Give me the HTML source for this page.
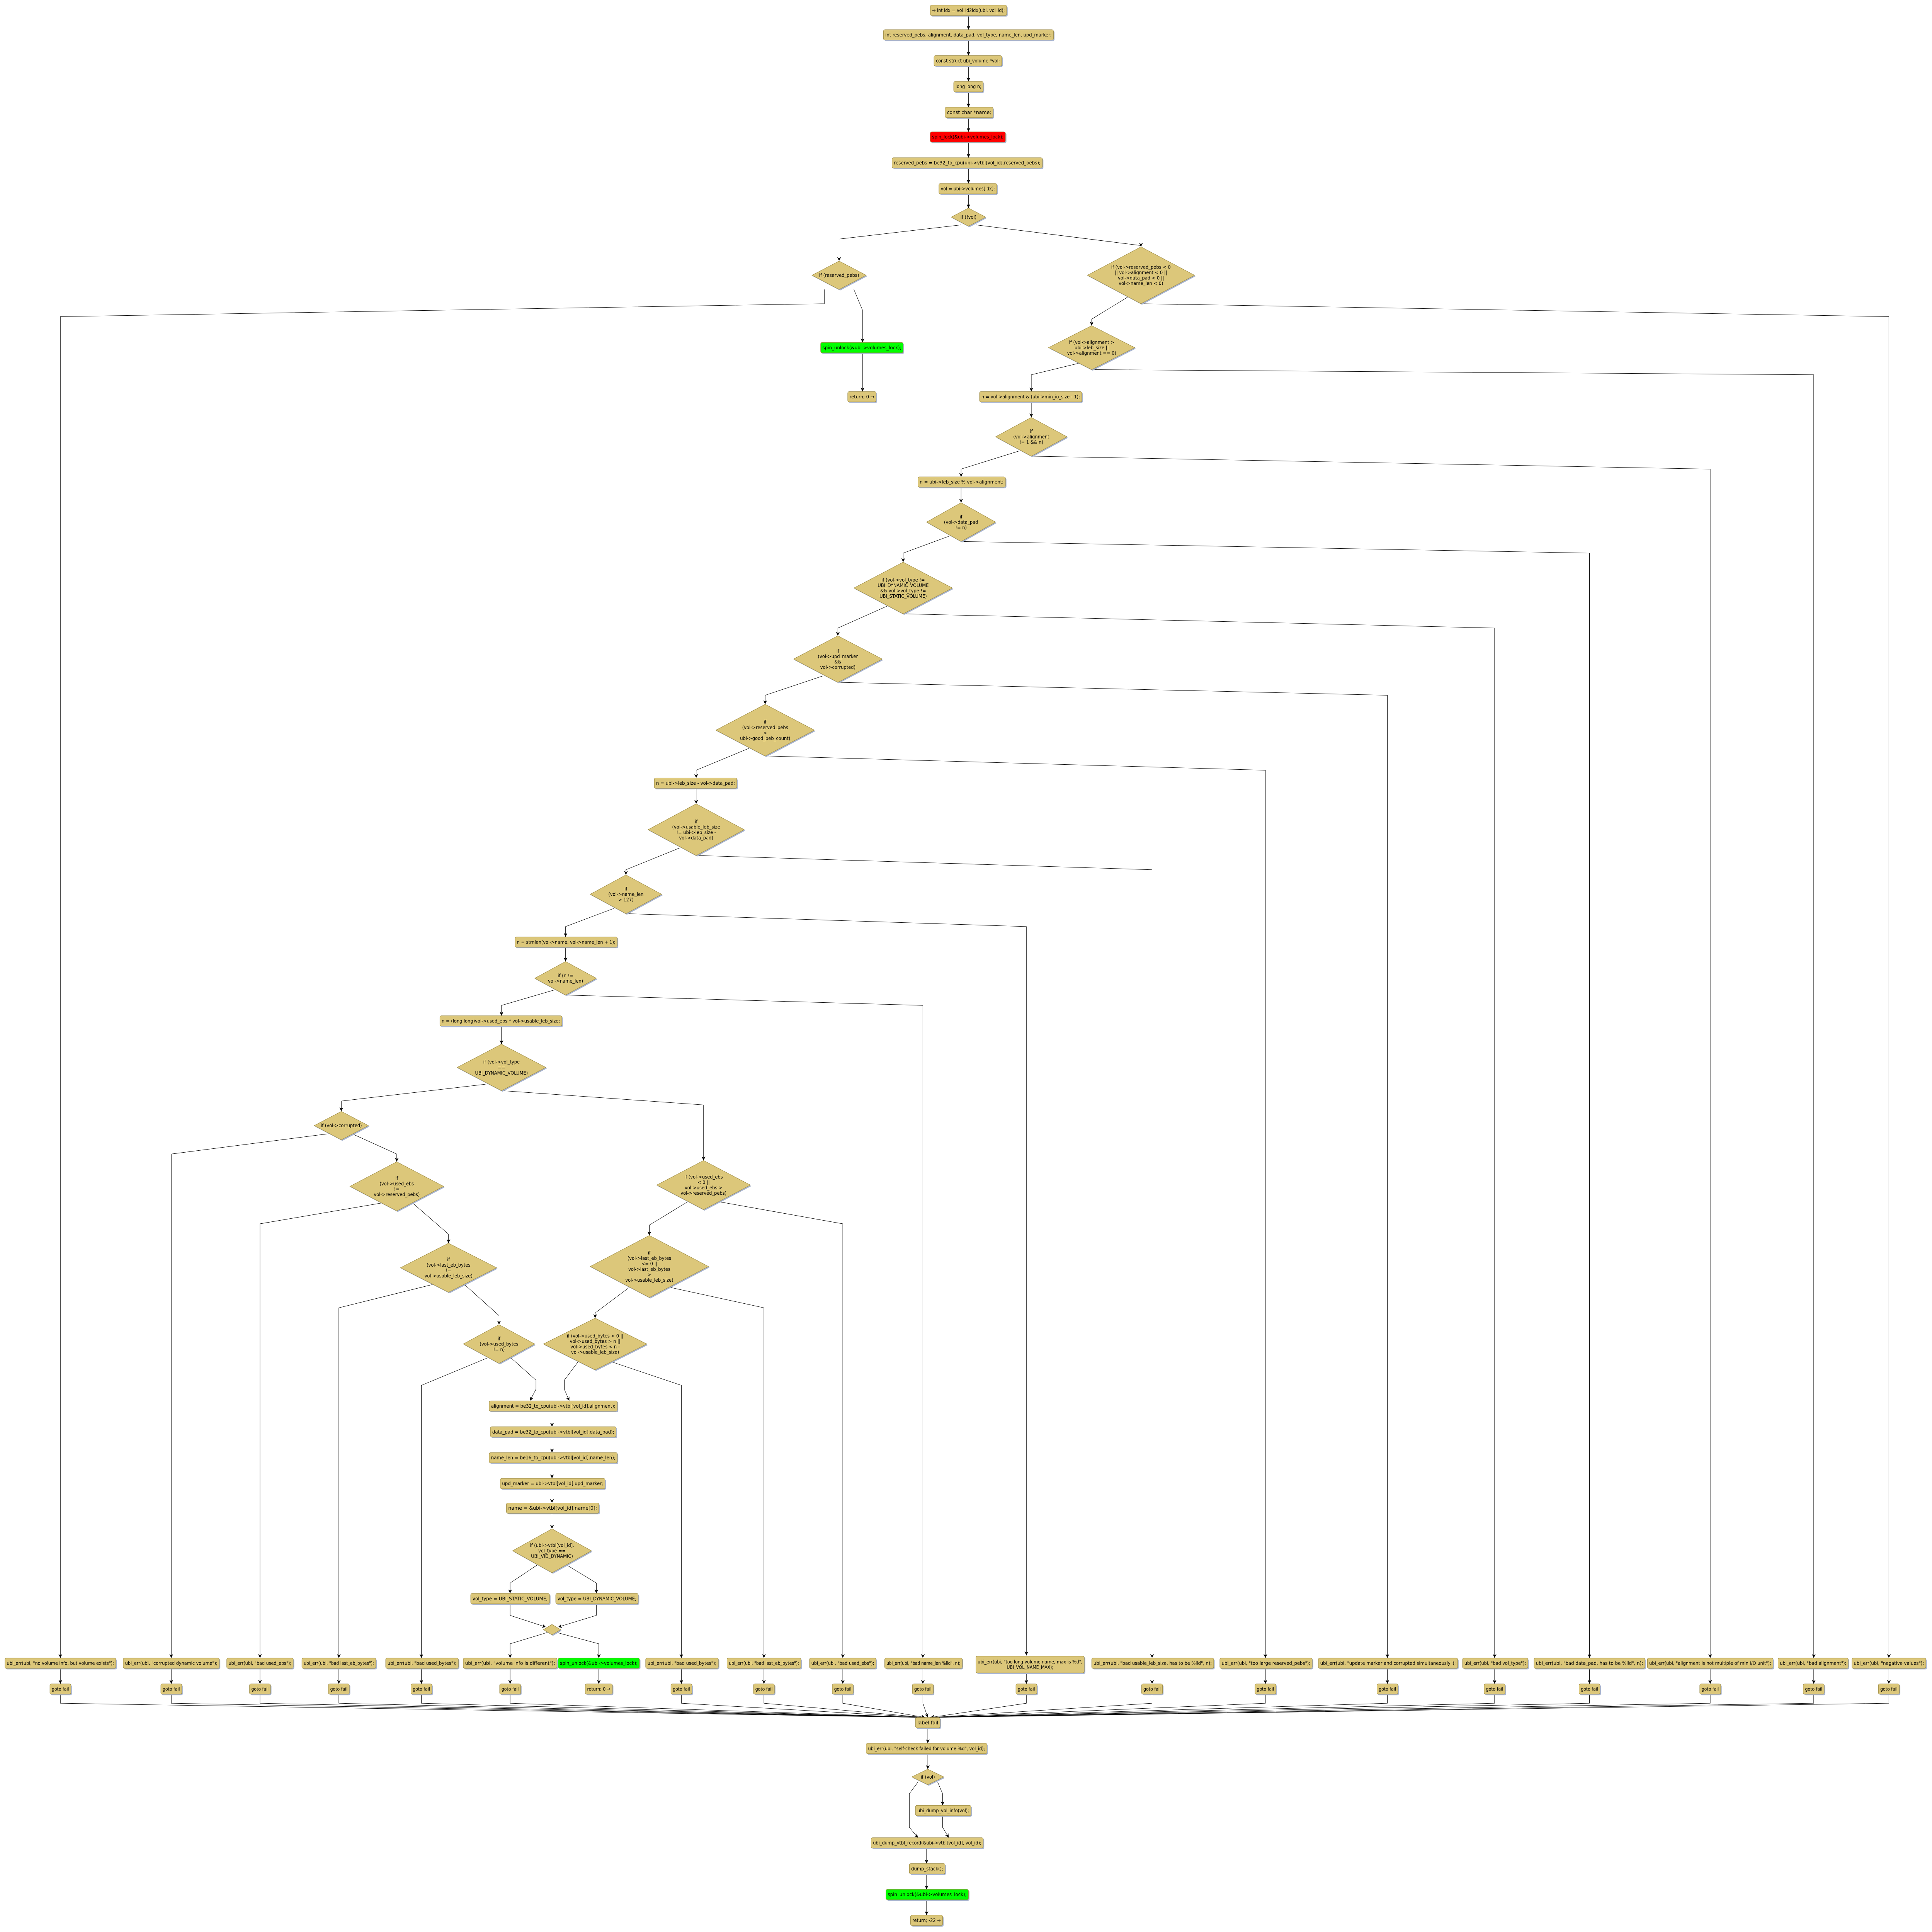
<!DOCTYPE html>
<html><head><meta charset="utf-8"><style>
html,body{margin:0;padding:0;background:#fff;width:100vw;height:100vh;overflow:hidden;}
svg{display:block;width:100vw;height:100vh;}
text{font-family:"DejaVu Sans","Liberation Sans",sans-serif;fill:#000;}
</style></head><body>
<svg id="s" xmlns="http://www.w3.org/2000/svg" viewBox="0 0 1568 1495" preserveAspectRatio="none">
<defs>
<marker id="a" markerUnits="userSpaceOnUse" markerWidth="4" markerHeight="4" refX="3" refY="1.5" orient="auto">
<path d="M0,0 L3,1.5 L0,3 L0.8,1.5 z" fill="#000"/>
</marker>
</defs>
<g id="E" fill="none" stroke="#000" stroke-width="0.3"></g>
<g id="N"></g>
</svg>
<script>
var NS="http://www.w3.org/2000/svg";
var E=document.getElementById('E'),N=document.getElementById('N');
var FILL="#dcc77a",STK="#9a8840",SH="#a8b4cf";
function el(t,a,p){var e=document.createElementNS(NS,t);for(var k in a)e.setAttribute(k,a[k]);(p||N).appendChild(e);return e;}
function txt(x,y,s,fit){var t=el('text',{x:x,y:y+1.25,'font-size':3.6,'text-anchor':'middle'});t.textContent=s;if(fit){t.setAttribute('textLength',fit);t.setAttribute('lengthAdjust','spacingAndGlyphs');}return t;}
function box(cx,cy,x0,x1,s,fill,h){h=h||8;var w=x1-x0;
 el('rect',{x:x0+0.8,y:cy-h/2+0.8,width:w,height:h,rx:1.2,fill:SH});
 el('rect',{x:x0,y:cy-h/2,width:w,height:h,rx:1.2,fill:fill||FILL,stroke:STK,'stroke-width':0.3});
 if(Array.isArray(s)){for(var i=0;i<s.length;i++)txt((x0+x1)/2,cy+(i-(s.length-1)/2)*4.2,s[i],Math.min(w-3,s[i].length*2.1));}
 else txt((x0+x1)/2,cy,s,Math.min(w-3,s.length*2.2));}
function dia(cx,cy,w,h,lines){
 var p=function(dx,dy){return [(cx+dx)+','+(cy-h/2+dy),(cx+w/2+dx)+','+(cy+dy),(cx+dx)+','+(cy+h/2+dy),(cx-w/2+dx)+','+(cy+dy)].join(' ');};
 el('polygon',{points:p(0.8,0.8),fill:SH});
 el('polygon',{points:p(0,0),fill:FILL,stroke:STK,'stroke-width':0.3});
 for(var i=0;i<lines.length;i++)txt(cx,cy+(i-(lines.length-1)/2)*4.2,lines[i]);}
function ed(pts,noarrow){var a={points:pts.map(function(p){return p.join(',')}).join(' ')};if(!noarrow)a['marker-end']='url(#a)';el('polyline',a,E);}

var chainTop=[[8,755,817,"→ int idx = vol_id2idx(ubi, vol_id);"],[27,717,855,"int reserved_pebs, alignment, data_pad, vol_type, name_len, upd_marker;"],
[47,758,813,"const struct ubi_volume *vol;"],[67,774,798,"long long n;"],[87,767,806,"const char *name;"],[106,755,816,"spin_lock(&ubi->volumes_lock);","#ff0000"],
[126,724,846,"reserved_pebs = be32_to_cpu(ubi->vtbl[vol_id].reserved_pebs);"],[146,762,809,"vol = ubi->volumes[idx];"]];
for(var i=0;i<chainTop.length;i++){box(786,chainTop[i][0],chainTop[i][1],chainTop[i][2],chainTop[i][3],chainTop[i][4]);
 var ny=(i<chainTop.length-1)?chainTop[i+1][0]-4:161;ed([[786,chainTop[i][0]+4],[786,ny]]);}
dia(786,168,28,14,["if (!vol)"]);
ed([[780,174],[681,185],[681,202]]);
ed([[792,174],[926,190],[926,191]]);
dia(681,213,44,22,["if (reserved_pebs)"]);
ed([[669,224],[669,235],[49,245],[49,1283]]);
ed([[693,224],[700,240],[700,265]]);
box(700,269,666,733,"spin_unlock(&ubi->volumes_lock);","#00ff00");
ed([[700,273],[700,303]]);
box(700,307,688,711,"return; 0 →");

dia(926,213,87,44,["if (vol->reserved_pebs < 0","|| vol->alignment < 0 ||","vol->data_pad < 0 ||","vol->name_len < 0)"]);
ed([[915,230],[886,247],[886,252]]);
ed([[927,235],[1533,245],[1533,1283]]);
dia(886,269,70,34,["if (vol->alignment >","ubi->leb_size ||","vol->alignment == 0)"]);
ed([[876,281],[837,290],[837,303]]);
ed([[887,286],[1472,290],[1472,1283]]);
box(837,307,795,878,"n = vol->alignment & (ubi->min_io_size - 1);");
ed([[837,311],[837,323]]);
dia(837,338,58,30,["if","(vol->alignment","!= 1 && n)"]);
ed([[827,349],[780,363],[780,369]]);
ed([[838,353],[1388,363],[1388,1283]]);
box(780,373,745,816,"n = ubi->leb_size % vol->alignment;");
ed([[780,377],[780,389]]);
dia(780,404,56,30,["if","(vol->data_pad","!= n)"]);
ed([[770,415],[733,428],[733,435]]);
ed([[781,419],[1290,428],[1290,1283]]);
dia(733,455,80,40,["if (vol->vol_type !=","UBI_DYNAMIC_VOLUME","&& vol->vol_type !=","UBI_STATIC_VOLUME)"]);
ed([[720,469],[680,486],[680,492]]);
ed([[734,475],[1213,486],[1213,1283]]);
dia(680,510,72,36,["if","(vol->upd_marker","&&","vol->corrupted)"]);
ed([[668,523],[621,538],[621,545]]);
ed([[681,528],[1126,538],[1126,1283]]);
dia(621,565,80,40,["if","(vol->reserved_pebs",">","ubi->good_peb_count)"]);
ed([[608,579],[565,596],[565,602]]);
ed([[622,585],[1027,596],[1027,1283]]);
box(565,606,531,598,"n = ubi->leb_size - vol->data_pad;");
ed([[565,610],[565,622]]);
dia(565,642,78,40,["if","(vol->usable_leb_size","!= ubi->leb_size -","vol->data_pad)"]);
ed([[552,656],[508,673],[508,677]]);
ed([[566,662],[935,673],[935,1283]]);
dia(508,692,58,30,["if","(vol->name_len","> 127)"]);
ed([[498,703],[459,717],[459,725]]);
ed([[509,707],[833,717],[833,1281]]);
box(459,729,418,501,"n = strnlen(vol->name, vol->name_len + 1);");
ed([[459,733],[459,744]]);
dia(459,757,50,26,["if (n !=","vol->name_len)"]);
ed([[450,766],[407,778],[407,786]]);
ed([[460,770],[749,778],[749,1283]]);
box(407,790,357,456,"n = (long long)vol->used_ebs * vol->usable_leb_size;");
ed([[407,794],[407,808]]);
dia(407,826,72,36,["if (vol->vol_type","==","UBI_DYNAMIC_VOLUME)"]);
ed([[394,839],[277,852],[277,860]]);
ed([[408,844],[571,855],[571,898]]);
dia(277,871,44,22,["if (vol->corrupted)"]);
ed([[269,877],[139,893],[139,1283]]);
ed([[285,877],[322,893],[322,899]]);
dia(322,918,76,38,["if","(vol->used_ebs","!=","vol->reserved_pebs)"]);
ed([[309,931],[211,947],[211,1283]]);
ed([[335,931],[364,955],[364,962]]);
dia(364,981,78,38,["if","(vol->last_eb_bytes","!=","vol->usable_leb_size)"]);
ed([[351,994],[275,1012],[275,1283]]);
ed([[377,994],[405,1018],[405,1025]]);
dia(405,1040,58,30,["if","(vol->used_bytes","!= n)"]);
ed([[395,1051],[342,1072],[342,1283]]);
ed([[415,1051],[435,1068],[435,1075],[430,1084]]);
dia(571,917,76,38,["if (vol->used_ebs","< 0 ||","vol->used_ebs >","vol->reserved_pebs)"]);
ed([[584,930],[684,947],[684,1283]]);
ed([[558,930],[527,948],[527,956]]);
dia(527,980,96,48,["if","(vol->last_eb_bytes","<= 0 ||","vol->last_eb_bytes",">","vol->usable_leb_size)"]);
ed([[543,996],[620,1012],[620,1283]]);
ed([[511,996],[483,1016],[483,1020]]);
dia(483,1040,84,40,["if (vol->used_bytes < 0 ||","vol->used_bytes > n ||","vol->used_bytes < n -","vol->usable_leb_size)"]);
ed([[497,1054],[553,1072],[553,1283]]);
ed([[469,1054],[458,1068],[458,1075],[462,1084]]);
var ch=[[1088,397,501,"alignment  = be32_to_cpu(ubi->vtbl[vol_id].alignment);"],[1108,398,500,"data_pad   = be32_to_cpu(ubi->vtbl[vol_id].data_pad);"],
[1128,397,501,"name_len   = be16_to_cpu(ubi->vtbl[vol_id].name_len);"],[1148,406,491,"upd_marker = ubi->vtbl[vol_id].upd_marker;"],[1167,411,486,"name       = &ubi->vtbl[vol_id].name[0];"]];
for(var i=0;i<ch.length;i++){box(448,ch[i][0],ch[i][1],ch[i][2],ch[i][3]);var ny=(i<ch.length-1)?ch[i+1][0]-4:1183;ed([[448,ch[i][0]+4],[448,ny]]);}
dia(448,1200,64,34,["if (ubi->vtbl[vol_id].","vol_type ==","UBI_VID_DYNAMIC)"]);
ed([[436,1211],[414,1225],[414,1233]]);
ed([[460,1211],[484,1225],[484,1233]]);
box(414,1237,382,446,"vol_type = UBI_STATIC_VOLUME;");
box(484,1237,451,518,"vol_type = UBI_DYNAMIC_VOLUME;");
ed([[414,1241],[414,1250],[443,1259]]);
ed([[484,1241],[484,1250],[453,1259]]);
dia(448,1261,14,8,[]);
ed([[445,1263],[414,1272],[414,1283]]);
ed([[451,1263],[486,1272],[486,1283]]);
box(486,1287,453,519,"spin_unlock(&ubi->volumes_lock);","#00ff00");
ed([[486,1291],[486,1303]]);
box(486,1307,475,497,"return; 0 →");

var errs=[[49,4,94,'"no volume info, but volume exists"'],[139,100,178,'"corrupted dynamic volume"'],[211,184,238,'"bad used_ebs"'],
[275,245,305,'"bad last_eb_bytes"'],[342,313,372,'"bad used_bytes"'],[414,376,452,'"volume info is different"'],
[553,524,583,'"bad used_bytes"'],[620,590,650,'"bad last_eb_bytes"'],[684,657,711,'"bad used_ebs"'],[749,718,781,'"bad name_len %lld", n'],
[833,792,880,null],[935,886,985,'"bad usable_leb_size, has to be %lld", n'],[1027,990,1065,'"too large reserved_pebs"'],
[1126,1070,1183,'"update marker and corrupted simultaneously"'],[1213,1187,1240,'"bad vol_type"'],[1290,1245,1335,'"bad data_pad, has to be %lld", n'],
[1388,1337,1439,'"alignment is not multiple of min I/O unit"'],[1472,1443,1500,'"bad alignment"'],[1533,1503,1563,'"negative values"']];
for(var i=0;i<errs.length;i++){var e=errs[i];
 if(e[3]===null){box(e[0],1288,e[1],e[2],['ubi_err(ubi, "too long volume name, max is %d",','UBI_VOL_NAME_MAX);'],null,13);}
 else box(e[0],1287,e[1],e[2],'ubi_err(ubi, '+e[3]+');');
 ed([[e[0],e[3]===null?1294.5:1291],[e[0],1303]]);
 box(e[0],1307,e[0]-8.5,e[0]+8.5,"goto fail");
 ed([[e[0],1311],[e[0],1318],[e[0]===749?753:(e[0]<753?751:755),1329]]);}
box(753,1333,743,763,"label fail");
ed([[753,1337],[753,1349]]);
box(753,1353,703,801,'ubi_err(ubi, "self-check failed for volume %d", vol_id);');
ed([[753,1357],[753,1369]]);
dia(753,1375,26,12,["if (vol)"]);
ed([[745,1379],[738,1388],[738,1414],[745,1422]]);
ed([[761,1379],[765,1388],[765,1397]]);
box(765,1401,743,788,"ubi_dump_vol_info(vol);");
ed([[765,1405],[765,1414],[770,1422]]);
box(752,1426,707,798,"ubi_dump_vtbl_record(&ubi->vtbl[vol_id], vol_id);");
ed([[752,1430],[752,1442]]);
box(752,1446,738,767,"dump_stack();");
ed([[752,1450],[752,1462]]);
box(752,1466,719,786,"spin_unlock(&ubi->volumes_lock);","#00ff00");
ed([[752,1470],[752,1482]]);
box(752,1486,739,765,"return; -22 →");
</script>
</body></html>
